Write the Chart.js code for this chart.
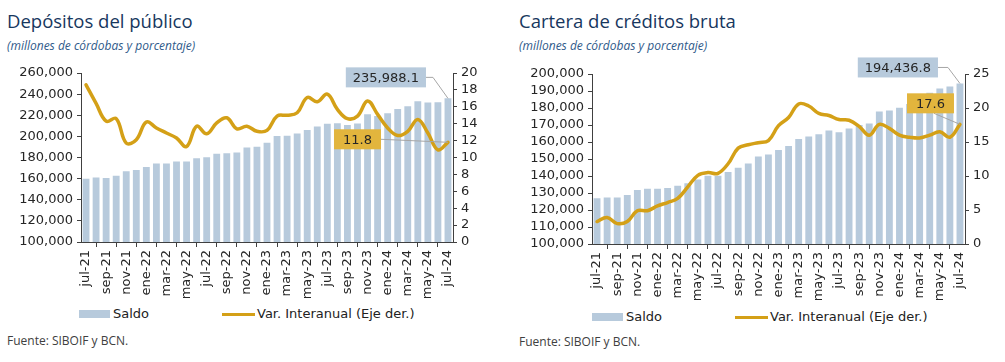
<!DOCTYPE html>
<html>
<head>
<meta charset="utf-8">
<script src="https://cdn.jsdelivr.net/npm/chart.js@4.4.1/dist/chart.umd.min.js"></script>
<style>
  body { margin: 0; width: 1005px; height: 362px; background: #fff; position: relative; overflow: hidden; }
  .t { position: absolute; white-space: nowrap; }
  .title { font-family: "Open Sans", sans-serif; font-size: 18.5px; color: #17375e; }
  .sub { font-family: "Open Sans", sans-serif; font-style: italic; font-size: 12px; color: #2f5a8a; }
  .src { font-family: "Open Sans", sans-serif; font-size: 12px; color: #404040; }
  .leg { font-family: "DejaVu Sans", sans-serif; font-size: 13px; color: #222; }
  .box { position: absolute; background: #b7cadc; }
  .ln { position: absolute; background: #d4a017; height: 3px; }
  canvas { position: absolute; top: 0; }
</style>
</head>
<body>

<div class="t title" style="left:7px;top:8px;">Depósitos del público</div>
<div class="t sub" style="left:7px;top:37px;">(millones de córdobas y porcentaje)</div>
<div class="t title" style="left:519px;top:8px;">Cartera de créditos bruta</div>
<div class="t sub" style="left:519px;top:37px;">(millones de córdobas y porcentaje)</div>

<canvas id="chartDep" width="505" height="305" style="left:0px;"></canvas>
<canvas id="chartCred" width="495" height="305" style="left:510px;"></canvas>

<div class="box" style="left:79px;top:310px;width:31px;height:8px;"></div>
<div class="t leg" style="left:113px;top:306px;">Saldo</div>
<div class="ln" style="left:222px;top:313px;width:33px;"></div>
<div class="t leg" style="left:257px;top:306px;">Var. Interanual (Eje der.)</div>

<div class="box" style="left:592px;top:313px;width:31px;height:8px;"></div>
<div class="t leg" style="left:626px;top:309px;">Saldo</div>
<div class="ln" style="left:735px;top:316px;width:33px;"></div>
<div class="t leg" style="left:770px;top:309px;">Var. Interanual (Eje der.)</div>

<div class="t src" style="left:7px;top:332px;">Fuente: SIBOIF y BCN.</div>
<div class="t src" style="left:519px;top:333px;">Fuente: SIBOIF y BCN.</div>

<script>
const meses = ["jul-21", "ago-21", "sep-21", "oct-21", "nov-21", "dic-21",
  "ene-22", "feb-22", "mar-22", "abr-22", "may-22", "jun-22",
  "jul-22", "ago-22", "sep-22", "oct-22", "nov-22", "dic-22",
  "ene-23", "feb-23", "mar-23", "abr-23", "may-23", "jun-23",
  "jul-23", "ago-23", "sep-23", "oct-23", "nov-23", "dic-23",
  "ene-24", "feb-24", "mar-24", "abr-24", "may-24", "jun-24", "jul-24"];

// Depósitos del público (millones de córdobas)
const saldoDep = [159800, 161000, 160500, 162800, 167000, 168200,
  171000, 174300, 174300, 176200, 176200, 179300,
  180300, 183600, 184100, 184700, 189500, 190200,
  194000, 200400, 200600, 202800, 206100, 209300,
  211900, 212400, 210800, 212200, 221000, 219200,
  222000, 226000, 228500, 233300, 232000, 232200, 235988.1];
const varDep = [18.6, 16.4, 14.3, 14.6, 11.7, 12.1,
  14.2, 13.5, 12.9, 12.3, 11.3, 13.7,
  12.8, 14.1, 14.7, 13.4, 13.7, 13.1,
  13.2, 14.9, 15.0, 15.3, 17.1, 16.6,
  17.5, 15.7, 14.6, 14.9, 16.7, 15.1,
  13.5, 12.6, 13.1, 14.5, 12.9, 10.9, 11.8];

// Cartera de créditos bruta (millones de córdobas)
const saldoCred = [126900, 127300, 127300, 128800, 131800, 132500,
  132500, 132900, 134300, 135700, 138000, 140200,
  140100, 142400, 144900, 147300, 151500, 152600,
  155300, 157600, 161700, 163200, 164600, 166700,
  165800, 168000, 170000, 170900, 178000, 178600,
  180200, 182300, 186500, 189000, 191500, 192700, 194436.8];
const varCred = [3.3, 3.9, 3.0, 3.3, 4.9, 4.9,
  5.6, 6.1, 6.7, 8.4, 10.1, 10.5,
  10.4, 11.8, 14.1, 14.6, 14.9, 15.2,
  17.4, 18.6, 20.6, 20.3, 19.2, 18.9,
  18.3, 18.2, 17.3, 16.0, 17.6, 17.0,
  16.0, 15.7, 15.6, 16.0, 16.5, 15.7, 17.6];

const ticksDep = { min: 100000, max: 260000, step: 20000, min1: 0, max1: 20, step1: 2 };
const ticksCred = { min: 100000, max: 200000, step: 10000, min1: 0, max1: 25, step1: 5 };

const AXIS = "#404040";
const TXT = "#262626";
const BAR = "#b7cadc";
const LINE = "#d4a017";
const GOLD = "#e2b53d";
const FONT = { family: "DejaVu Sans", size: 13 };

// callout boxes with leader lines for the last bar and last point
const calloutPlugin = {
  id: "callout",
  afterDatasetsDraw(chart, args, opts) {
    const ctx = chart.ctx;
    ctx.save();
    ctx.font = "13px 'DejaVu Sans'";
    opts.items.forEach(function (it) {
      const meta = chart.getDatasetMeta(it.dataset);
      const el = meta.data[meta.data.length - 1];
      const raw = chart.data.datasets[it.dataset].data[meta.data.length - 1];
      const txt = it.format(raw);
      const w = ctx.measureText(txt).width + 2 * it.pad;
      const h = 20;
      const right = el.x + it.dx;
      const cy = el.y + it.dy;
      const left = right - w;
      const top = cy - h / 2;
      // leader line
      ctx.strokeStyle = "#a6a6a6";
      ctx.lineWidth = 1;
      ctx.beginPath();
      const pts = it.leader(left, top, w, h, el.x, el.y);
      ctx.moveTo(pts[0][0], pts[0][1]);
      for (let k = 1; k < pts.length; k++) ctx.lineTo(pts[k][0], pts[k][1]);
      ctx.stroke();
      // box
      ctx.fillStyle = it.fill;
      ctx.fillRect(left, top, w, h);
      ctx.fillStyle = TXT;
      ctx.textAlign = "center";
      ctx.textBaseline = "middle";
      ctx.fillText(txt, left + w / 2, cy + 1);
    });
    ctx.restore();
  }
};

function makeChart(canvasId, saldo, variacion, t, pad, callouts) {
  const ctx = document.getElementById(canvasId).getContext("2d");
  return new Chart(ctx, {
    type: "bar",
    data: {
      labels: meses,
      datasets: [
        {
          type: "line",
          label: "Var. Interanual (Eje der.)",
          data: variacion,
          yAxisID: "y1",
          borderColor: LINE,
          borderWidth: 3.5,
          tension: 0.4,
          pointRadius: 0,
          borderCapStyle: "round",
          order: 0,
        },
        {
          label: "Saldo",
          data: saldo,
          yAxisID: "y",
          backgroundColor: BAR,
          categoryPercentage: 1,
          barPercentage: 0.68,
          order: 1,
        },
      ],
    },
    options: {
      responsive: false,
      animation: false,
      devicePixelRatio: 1,
      layout: { padding: pad },
      plugins: {
        legend: { display: false },
        tooltip: { enabled: false },
        callout: { items: callouts },
      },
      scales: {
        x: {
          offset: true,
          grid: { offset: true, drawOnChartArea: false, tickLength: 5, color: AXIS },
          border: { color: AXIS },
          ticks: {
            autoSkip: false, minRotation: 90, maxRotation: 90, padding: 3,
            color: TXT, font: FONT,
            callback: function (v, i) { return i % 2 === 0 ? meses[i] : null; },
          },
          afterFit: function (s) { s.height = 60; },
        },
        y: {
          position: "left",
          min: t.min, max: t.max,
          grid: { drawOnChartArea: false, tickLength: 4, color: AXIS },
          border: { color: AXIS },
          ticks: {
            autoSkip: false, stepSize: t.step, padding: 4, color: TXT, font: FONT,
            callback: function (v) { return v.toLocaleString("en-US"); },
          },
          afterFit: function (s) { s.width = 72; },
        },
        y1: {
          position: "right",
          min: t.min1, max: t.max1,
          grid: { drawOnChartArea: false, tickLength: 4, color: AXIS },
          border: { color: AXIS },
          ticks: { autoSkip: false, stepSize: t.step1, padding: 4, color: TXT, font: FONT },
          afterFit: function (s) { s.width = 40; },
        },
      },
    },
    plugins: [calloutPlugin],
  });
}

const fmtSaldo = v => v.toLocaleString("en-US", { minimumFractionDigits: 1, maximumFractionDigits: 1 });
const fmtVar = v => v.toFixed(1);

makeChart("chartDep", saldoDep, varDep, ticksDep,
  { left: 9, right: 12, top: 73, bottom: 3 },
  [
    { dataset: 1, dx: -22, dy: -21, pad: 7, fill: BAR, format: fmtSaldo,
      leader: (l, tp, w, h, ax, ay) => [[l + w, tp + h / 2], [ax - 15, tp + h / 2], [ax, ay]] },
    { dataset: 0, dx: -67, dy: -3, pad: 9, fill: GOLD, format: fmtVar,
      leader: (l, tp, w, h, ax, ay) => [[l + w, tp + h / 2], [ax, ay]] },
  ]);

makeChart("chartCred", saldoCred, varCred, ticksCred,
  { left: 10, right: 0, top: 74, bottom: 1 },
  [
    { dataset: 1, dx: -22, dy: -16, pad: 7, fill: BAR, format: fmtSaldo,
      leader: (l, tp, w, h, ax, ay) => [[l + w, tp + h / 2], [ax - 12, tp + h / 2], [ax, ay]] },
    { dataset: 0, dx: -6, dy: -21, pad: 9, fill: GOLD, format: fmtVar,
      leader: (l, tp, w, h, ax, ay) => [[l + w - 20, tp + h], [ax, ay]] },
  ]);
</script>
</body>
</html>
